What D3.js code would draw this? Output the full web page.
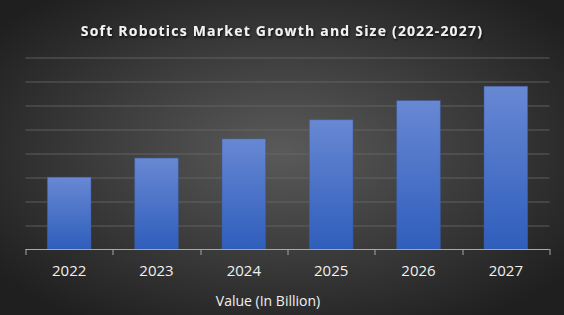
<!DOCTYPE html>
<html>
<head>
<meta charset="utf-8">
<script src="https://cdn.jsdelivr.net/npm/d3@7"></script>
<style>
  html, body { margin: 0; padding: 0; background: #2a2a2a; }
  svg { display: block; }
</style>
</head>
<body>
<div class="chart"></div>
<script>
// chart data
const years = ["2022", "2023", "2024", "2025", "2026", "2027"];
const values = [3.0, 3.8, 4.6, 5.4, 6.2, 6.8];
const gridTicks = [1, 2, 3, 4, 5, 6, 7, 8];

let outWidth = 564, outHeight = 315;
let margin = {top: 57.5, right: 14.5, left: 25.5, bottom: 66};
let width = outWidth - margin.left - margin.right,
	height = outHeight - margin.top - margin.bottom;

const svg = d3.select('.chart').append('svg')
	.attr("width", outWidth)
	.attr("height", outHeight);

const defs = svg.append("defs");

// background: lighter in the middle, dark at the edges
const bgGrad = defs.append("radialGradient")
	.attr("id", "bg")
	.attr("cx", "50%").attr("cy", "48%").attr("r", "64%");
bgGrad.append("stop").attr("offset", "0%").attr("stop-color", "#5a5a5a");
bgGrad.append("stop").attr("offset", "100%").attr("stop-color", "#1f1f1f");

const barGrad = defs.append("linearGradient")
	.attr("id", "bar")
	.attr("x1", 0).attr("y1", 0).attr("x2", 0).attr("y2", 1);
barGrad.append("stop").attr("offset", "0%").attr("stop-color", "#6888d3");
barGrad.append("stop").attr("offset", "100%").attr("stop-color", "#2f5ebc");

const shadow = defs.append("filter").attr("id", "shadow");
shadow.append("feDropShadow")
	.attr("dx", 1).attr("dy", 1.5).attr("stdDeviation", 0.8)
	.attr("flood-color", "#000").attr("flood-opacity", 0.8);

svg.append("rect")
	.attr("width", outWidth)
	.attr("height", outHeight)
	.attr("fill", "url(#bg)");

const g = svg.append("g")
	.attr("transform", `translate(${margin.left}, ${margin.top})`);

let yearScale = d3.scaleBand()
	.domain(years)
	.range([0, width])
	.paddingInner(0.5)
	.paddingOuter(0.25);
let yScale = d3.scaleLinear()
	.domain([0, 8])
	.range([height, 0]);

// gridlines
g.append("g")
	.selectAll("line")
	.data(gridTicks)
	.join("line")
	.attr("x1", 0)
	.attr("x2", width)
	.attr("y1", d => Math.round(yScale(d)) + 0.5)
	.attr("y2", d => Math.round(yScale(d)) + 0.5)
	.attr("stroke", "#6a6a6a")
	.attr("stroke-opacity", 0.8)
	.attr("stroke-width", 1);

// bars
g.selectAll(".bar")
	.data(values)
	.join("rect")
	.attr("class", "bar")
	.attr("x", (d, i) => yearScale(years[i]))
	.attr("y", d => yScale(d))
	.attr("width", yearScale.bandwidth())
	.attr("height", d => height - yScale(d))
	.attr("fill", "url(#bar)")
	.attr("stroke", "#3a5a9a")
	.attr("stroke-opacity", 0.6)
	.attr("stroke-width", 0.8);

// x axis
const xAxis = d3.axisBottom(yearScale).tickSize(0).tickPadding(16);
const ax = g.append("g")
	.attr("class", "axis x-axis")
	.attr("transform", `translate(0, ${height})`)
	.call(xAxis);
ax.select(".domain").remove();
ax.selectAll("text")
	.attr("fill", "#f0f0f0")
	.attr("font-family", "Open Sans")
	.attr("font-size", 15);

const step = yearScale.step();
const bounds = d3.range(years.length + 1).map(i => i * step);
ax.append("line")
	.attr("x1", 0).attr("x2", width)
	.attr("y1", 0.5).attr("y2", 0.5)
	.attr("stroke", "#a8a8a8");
ax.selectAll(".bound")
	.data(bounds)
	.join("line")
	.attr("class", "bound")
	.attr("x1", d => Math.round(d) + 0.5)
	.attr("x2", d => Math.round(d) + 0.5)
	.attr("y1", 0)
	.attr("y2", 6)
	.attr("stroke", "#a8a8a8");

// titles
svg.append("text")
	.attr("x", 282)
	.attr("y", 36)
	.attr("text-anchor", "middle")
	.attr("fill", "#f2f2f2")
	.attr("font-family", "Open Sans")
	.attr("font-weight", "bold")
	.attr("font-size", 14)
	.attr("letter-spacing", 1.2)
	.attr("filter", "url(#shadow)")
	.text("Soft Robotics Market Growth and Size (2022-2027)");

svg.append("text")
	.attr("x", 268)
	.attr("y", 306)
	.attr("text-anchor", "middle")
	.attr("fill", "#f0f0f0")
	.attr("font-family", "Open Sans")
	.attr("font-size", 14)
	.text("Value (In Billion)");
</script>
</body>
</html>
